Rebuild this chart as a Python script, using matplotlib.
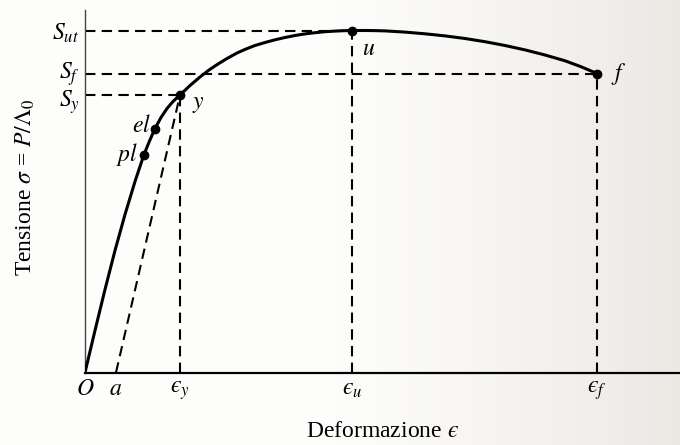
import numpy as np
import matplotlib.pyplot as plt
from matplotlib.transforms import ScaledTranslation

plt.rcParams['font.family'] = 'Liberation Serif'
plt.rcParams['mathtext.fontset'] = 'stix'

# curva tensione-deformazione (unita' arbitrarie)
eps = [0, 10, 20, 30, 40, 50, 59, 64.5, 70, 76, 82, 88, 95, 105, 115, 124, 133, 142, 152,
       161, 170, 180, 190, 200, 210, 220, 230, 240, 250, 258, 267, 280, 290, 300, 320, 340,
       360, 380, 400, 420, 440, 460, 480, 496, 512]
sigma = [0, 42, 83, 122, 158, 191, 218, 231.5, 244, 255, 264, 271, 277.5, 287, 295.5, 302.5,
         308.5, 314, 319.5, 323.5, 327, 330, 332.7, 335, 337, 338.6, 339.8, 340.8, 341.4,
         341.8, 342, 342, 341.9, 341.6, 340.4, 338.7, 336.6, 334, 330.8, 327, 322.6, 317.5,
         311.7, 305.8, 299]

# punti notevoli
punti = ['pl', 'el', 'y', 'u', 'f']
eps_punti = [59, 70, 95, 267, 512]
sig_punti = [218, 244, 277.5, 342, 299]

eps_a = 31
eps_y, eps_u, eps_f = 95, 267, 512
S_y, S_f, S_ut = 277.5, 299, 342

# epsilon lunata (U+03F5)
eps_nomi = ['$O$', '$a$', '$\u03f5_y$', '$\u03f5_u$', '$\u03f5_f$']
sig_nomi = ['$S_y$', '$S_f$', '$S_{ut}$']

fig = plt.figure(figsize=(6.8, 4.45), dpi=100)

# fondo carta
bg = fig.add_axes([0, 0, 1, 1], zorder=-1)
g = np.linspace(0, 1, 200)
t = np.clip((g - 0.45) / 0.55, 0, 1) ** 1.3
bianco = np.array([0.995, 0.995, 0.99])
grigio = np.array([0.925, 0.91, 0.895])
riga = bianco + (grigio - bianco) * t[:, None]
bg.imshow(np.repeat(riga[None, :, :], 2, axis=0), aspect='auto', extent=[0, 1, 0, 1])
bg.set_axis_off()

ax = fig.add_axes([85 / 680, 1 - 372.5 / 445, 595 / 680, 362.5 / 445])
ax.set_facecolor('none')

tratt = dict(color='k', lw=1.5, dashes=(5, 3))
ax.plot([0, eps_u], [S_ut, S_ut], **tratt)
ax.plot([0, eps_f], [S_f, S_f], **tratt)
ax.plot([0, eps_y], [S_y, S_y], **tratt)
ax.plot([eps_y, eps_y], [0, S_y], **tratt)
ax.plot([eps_u, eps_u], [0, S_ut], **tratt)
ax.plot([eps_f, eps_f], [0, S_f], **tratt)
ax.plot([eps_a, eps_y], [0, S_y], **tratt)

ax.plot(eps, sigma, color='k', lw=2.2, solid_capstyle='round', solid_joinstyle='round', zorder=3)
ax.plot(eps_punti, sig_punti, 'o', color='k', ms=6, zorder=4)

offset = {'pl': (-4, 0, 'right'), 'el': (-3, 1.5, 'right'), 'y': (9, -7, 'left'),
          'u': (7, -14, 'left'), 'f': (10, 0, 'left')}
for nome, x, y in zip(punti, eps_punti, sig_punti):
    dx, dy, ha = offset[nome]
    ax.annotate('$' + nome + '$', (x, y), xytext=(dx, dy), textcoords='offset points',
                ha=ha, va='center', fontsize=17)

ax.set_xlim(0, 595)
ax.set_ylim(0, 362.5)
ax.set_xticks([0, eps_a, eps_y, eps_u, eps_f])
ax.set_xticklabels(eps_nomi, fontsize=17)
ax.set_yticks([S_y, S_f, S_ut])
ax.set_yticklabels(sig_nomi, fontsize=17)
ax.tick_params(length=0)
ax.tick_params(axis='x', pad=5)
ax.tick_params(axis='y', pad=4)

# S_f un po' piu' in alto per non toccare S_y
lab_f = ax.get_yticklabels()[1]
lab_f.set_transform(lab_f.get_transform() + ScaledTranslation(0, 3 / 72, fig.dpi_scale_trans))
lab_y = ax.get_yticklabels()[0]
lab_y.set_transform(lab_y.get_transform() + ScaledTranslation(0, -2 / 72, fig.dpi_scale_trans))

for s in ['top', 'right']:
    ax.spines[s].set_visible(False)
ax.spines['left'].set_color('#444444')
ax.spines['left'].set_linewidth(1.0)
ax.spines['bottom'].set_linewidth(1.6)

ax.set_xlabel('Deformazione $\u03f5$', fontsize=17)
ax.xaxis.set_label_coords(0.5, -0.135)
ax.set_ylabel(r'Tensione $\sigma$ = $P/\Lambda_0$', fontsize=17)
ax.yaxis.set_label_coords(-0.08, 0.51)

fig.savefig('out.png', dpi=100)
